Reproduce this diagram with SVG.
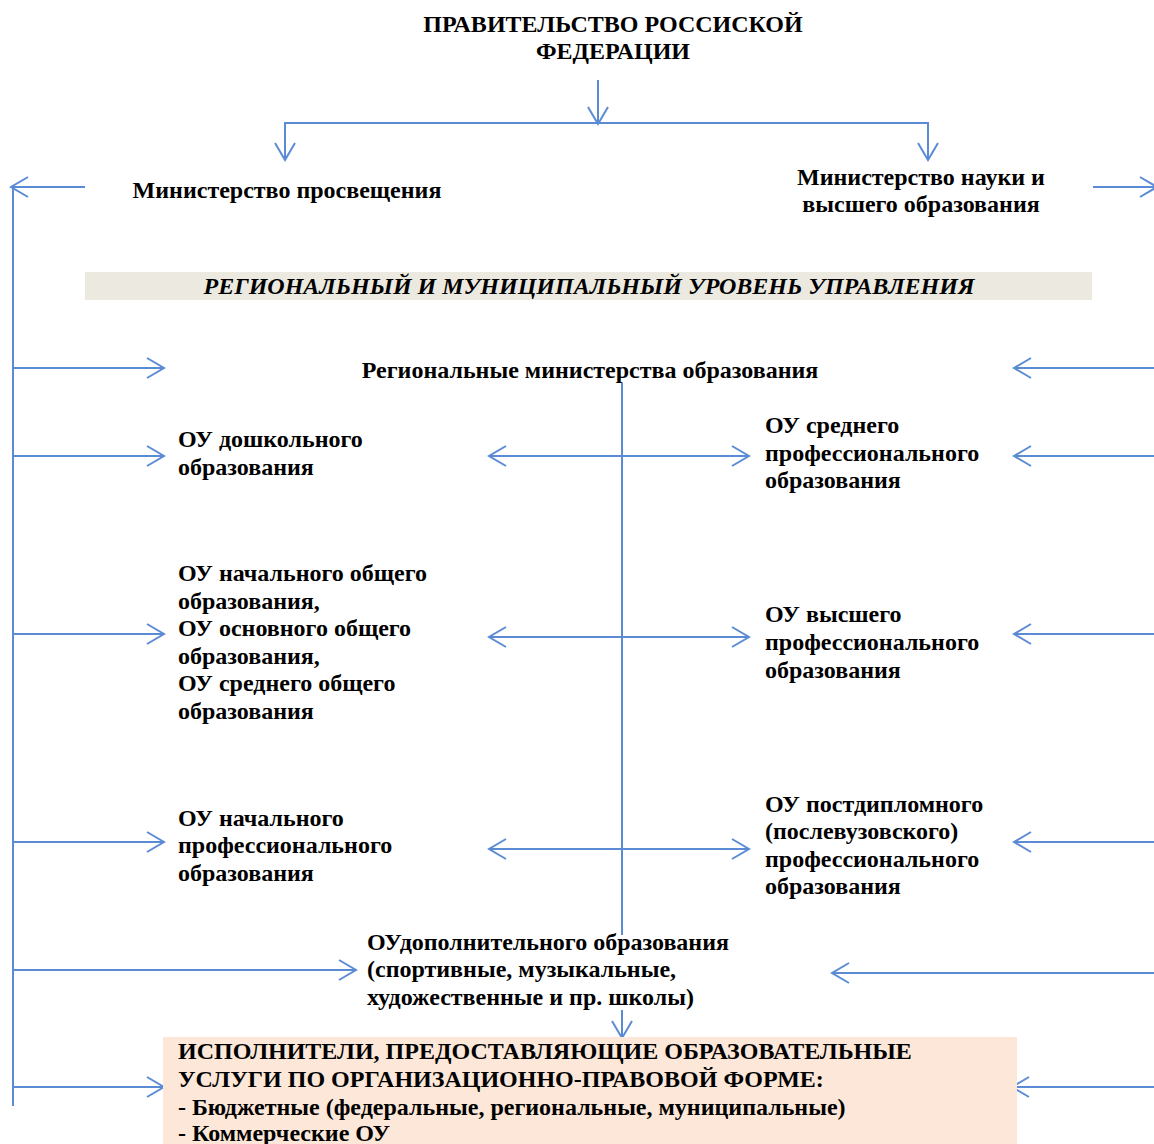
<svg xmlns="http://www.w3.org/2000/svg" width="1154" height="1144" viewBox="0 0 1154 1144">
<style>
text{font-family:"Liberation Serif","Times New Roman",serif;font-weight:bold;font-size:24px;fill:#000}
.c{text-anchor:middle}
.it{font-style:italic}
.ln{stroke:#5B8BD5;stroke-width:2;fill:none}
.a{marker-end:url(#ah)}
.d{marker-start:url(#ah);marker-end:url(#ah)}
</style>
<defs>
<marker id="ah" viewBox="0 0 20 22" markerWidth="20" markerHeight="22" refX="18" refY="11" orient="auto-start-reverse" markerUnits="userSpaceOnUse">
<path d="M1,1 L18,11 L1,21" fill="none" stroke="#5B8BD5" stroke-width="2"/>
</marker>
</defs>
<rect width="1154" height="1144" fill="#fff"/>
<g id="band">
<rect x="85" y="272" width="1007" height="28" fill="#ECEAE0"/>
<text class="c it" x="589" y="294">РЕГИОНАЛЬНЫЙ И МУНИЦИПАЛЬНЫЙ УРОВЕНЬ УПРАВЛЕНИЯ</text>
</g>
<g id="connectors">
<line class="ln a" x1="598" y1="80" x2="598" y2="124"/>
<polyline class="ln" points="285,148 285,123 928,123 928,148"/>
<line class="ln a" x1="285" y1="123" x2="285" y2="160"/>
<line class="ln a" x1="928" y1="123" x2="928" y2="160"/>
<line class="ln" x1="13" y1="187" x2="13" y2="1106"/>
<line class="ln a" x1="85" y1="187" x2="11" y2="187"/>
<line class="ln a" x1="1093" y1="187" x2="1157" y2="187"/>
<line class="ln a" x1="13" y1="368" x2="164" y2="368"/>
<line class="ln a" x1="1160" y1="368" x2="1014" y2="368"/>
<line class="ln" x1="622" y1="383" x2="622" y2="935"/>
<line class="ln a" x1="13" y1="456" x2="164" y2="456"/>
<line class="ln d" x1="489" y1="456" x2="749" y2="456"/>
<line class="ln a" x1="1160" y1="456" x2="1014" y2="456"/>
<line class="ln a" x1="13" y1="634" x2="164" y2="634"/>
<line class="ln d" x1="489" y1="637" x2="749" y2="637"/>
<line class="ln a" x1="1160" y1="634" x2="1014" y2="634"/>
<line class="ln a" x1="13" y1="842" x2="164" y2="842"/>
<line class="ln d" x1="489" y1="849" x2="749" y2="849"/>
<line class="ln a" x1="1160" y1="842" x2="1014" y2="842"/>
<line class="ln a" x1="13" y1="970" x2="356" y2="970"/>
<line class="ln a" x1="1160" y1="973" x2="832" y2="973"/>
<line class="ln a" x1="622" y1="1010" x2="622" y2="1038"/>
<line class="ln a" x1="13" y1="1087" x2="164" y2="1087"/>
<line class="ln a" x1="1160" y1="1087" x2="1012" y2="1087"/>
</g>
<g id="gov">
<text class="c" x="613" y="32">ПРАВИТЕЛЬСТВО РОССИСКОЙ</text>
<text class="c" x="613" y="59">ФЕДЕРАЦИИ</text>
</g>
<g id="min-prosv">
<text class="c" x="287" y="198">Министерство просвещения</text>
</g>
<g id="min-nauki">
<text class="c" x="921" y="185">Министерство науки и</text>
<text class="c" x="921" y="212">высшего образования</text>
</g>
<g id="reg-min">
<text class="c" x="590" y="378">Региональные министерства образования</text>
</g>
<g id="ou-dosh">
<text x="178" y="447">ОУ дошкольного</text>
<text x="178" y="475">образования</text>
</g>
<g id="ou-spo">
<text x="765" y="433">ОУ среднего</text>
<text x="765" y="461">профессионального</text>
<text x="765" y="488">образования</text>
</g>
<g id="ou-obsh">
<text x="178" y="581">ОУ начального общего</text>
<text x="178" y="609">образования,</text>
<text x="178" y="636">ОУ основного общего</text>
<text x="178" y="664">образования,</text>
<text x="178" y="691">ОУ среднего общего</text>
<text x="178" y="719">образования</text>
</g>
<g id="ou-vpo">
<text x="765" y="622">ОУ высшего</text>
<text x="765" y="650">профессионального</text>
<text x="765" y="678">образования</text>
</g>
<g id="ou-npo">
<text x="178" y="826">ОУ начального</text>
<text x="178" y="853">профессионального</text>
<text x="178" y="881">образования</text>
</g>
<g id="ou-post">
<text x="765" y="812">ОУ постдипломного</text>
<text x="765" y="839">(послевузовского)</text>
<text x="765" y="867">профессионального</text>
<text x="765" y="894">образования</text>
</g>
<g id="ou-dop">
<text x="367" y="950">ОУдополнительного образования</text>
<text x="367" y="977">(спортивные, музыкальные,</text>
<text x="367" y="1005">художественные и пр. школы)</text>
</g>
<g id="ispolniteli">
<rect x="163" y="1037" width="854" height="110" fill="#FCE7D8"/>
<text x="178" y="1059">ИСПОЛНИТЕЛИ, ПРЕДОСТАВЛЯЮЩИЕ ОБРАЗОВАТЕЛЬНЫЕ</text>
<text x="178" y="1087">УСЛУГИ ПО ОРГАНИЗАЦИОННО-ПРАВОВОЙ ФОРМЕ:</text>
<text x="178" y="1115">- Бюджетные (федеральные, региональные, муниципальные)</text>
<text x="178" y="1141">- Коммерческие ОУ</text>
</g>
</svg>
